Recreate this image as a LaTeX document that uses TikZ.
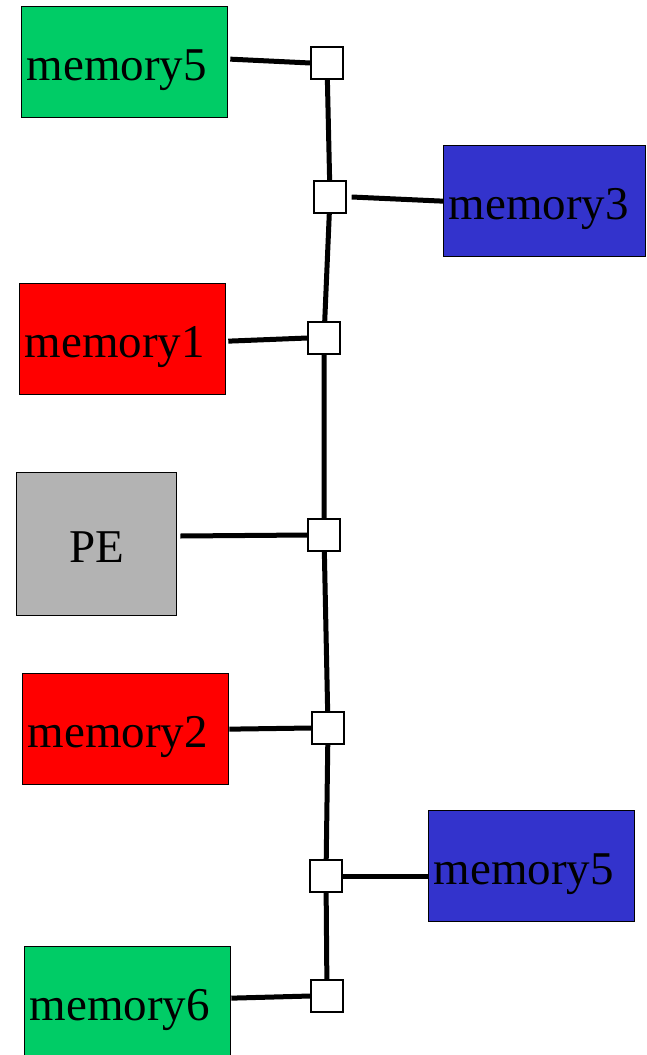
\documentclass[tikz,border=0pt]{standalone}
\usepackage{fontspec}
\setmainfont{Liberation Serif}
\usetikzlibrary{positioning}

\definecolor{memgreen}{RGB}{0,204,102}
\definecolor{memblue}{RGB}{51,51,204}
\definecolor{memred}{RGB}{255,0,0}
\definecolor{pegray}{RGB}{179,179,179}

\begin{document}
\begin{tikzpicture}[x=1pt, y=-1pt,
    membox/.style={draw=black, line width=1.3pt, rectangle, anchor=north west,
        text width=196pt, inner xsep=5pt, inner ysep=0pt, minimum height=111pt,
        text height=37pt, text depth=0pt,
        align=left, font=\fontsize{47}{52}\selectfont},
    switchbox/.style={draw=black, fill=white, line width=1.3pt, rectangle,
        minimum size=32pt, inner sep=0pt},
    link/.style={black, line width=5pt}]
    \useasboundingbox (0,0) rectangle (647,1055);

    % memories and PE
    \node[membox, fill=memgreen] (m5a) at (21,6) {memory5};
    \node[membox, fill=memblue, text width=192pt] (m3) at (443,145) {memory3};
    \node[membox, fill=memred] (m1) at (19,283) {memory1};
    \node[membox, fill=pegray, text width=150pt, minimum height=143pt, align=center] (pe) at (16,472) {PE};
    \node[membox, fill=memred] (m2) at (22,673) {memory2};
    \node[membox, fill=memblue] (m5b) at (428,810) {memory5};
    \node[membox, fill=memgreen] (m6) at (24,946) {memory6};

    % switches on the bus
    \coordinate (c1) at (327,63);
    \coordinate (c2) at (330,197);
    \coordinate (c3) at (324,338);
    \coordinate (c4) at (324,535);
    \coordinate (c5) at (328,728);
    \coordinate (c6) at (326,876);
    \coordinate (c7) at (327,996);

    % bus
    \draw[link] (c1) -- (c2) -- (c3) -- (c4) -- (c5) -- (c6) -- (c7);

    \node[switchbox] (sw1) at (c1) {};
    \node[switchbox] (sw2) at (c2) {};
    \node[switchbox] (sw3) at (c3) {};
    \node[switchbox] (sw4) at (c4) {};
    \node[switchbox] (sw5) at (c5) {};
    \node[switchbox] (sw6) at (c6) {};
    \node[switchbox] (sw7) at (c7) {};

    % links to the switches
    \draw[link] (m5a.east) ++(2,-3) -- (sw1.west);
    \draw[link] (sw2.east) ++(5,0) -- (m3.west);
    \draw[link] (m1.east) ++(2,2) -- (sw3.west);
    \draw[link] (pe.east |- sw4) ++(3,1) -- (sw4.west);
    \draw[link] (m2.east) -- (sw5.west);
    \draw[link] (sw6.east) -- (m5b.west |- sw6) ++(0,2);
    \draw[link] (m6.east) ++(0,-4) -- (sw7.west);
\end{tikzpicture}
\end{document}
